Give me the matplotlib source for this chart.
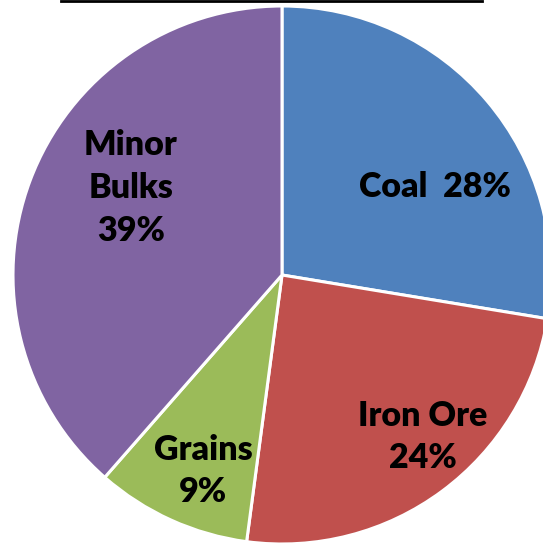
import matplotlib
matplotlib.use("Agg")
import matplotlib.pyplot as plt
from matplotlib.lines import Line2D

categories = ["Coal", "Iron Ore", "Grains", "Minor Bulks"]
shares = [27.6, 24.5, 9.35, 38.55]
labels = ["Coal  28%", "Iron Ore\n24%", "Grains\n9%", "Minor\nBulks\n39%"]
colors = ["#4F81BD", "#C0504D", "#9BBB59", "#8064A2"]

W = H = 543
fig = plt.figure(figsize=(W / 100, H / 100), dpi=100)
ax = fig.add_axes([0, 0, 1, 1])

cx, cy, r = 282, H - 275, 269
ax.pie(shares, colors=colors, startangle=90, counterclock=False,
       center=(cx, cy), radius=r,
       wedgeprops=dict(edgecolor="white", linewidth=2.2))
ax.set_xlim(0, W)
ax.set_ylim(0, H)
ax.set_aspect("equal")
ax.axis("off")

label_pos = [(435, 187), (423, 437), (203, 471), (131, 188)]
for lab, (x, y) in zip(labels, label_pos):
    ax.text(x, H - y, lab, ha="center", va="center", fontsize=24.5,
            fontweight="heavy", family="Lato", linespacing=1.42, color="black")

fig.add_artist(Line2D([61 / W, 482 / W], [1 - 1 / H, 1 - 1 / H],
                      transform=fig.transFigure, color="black", linewidth=2))

fig.savefig("out.png", dpi=100)
